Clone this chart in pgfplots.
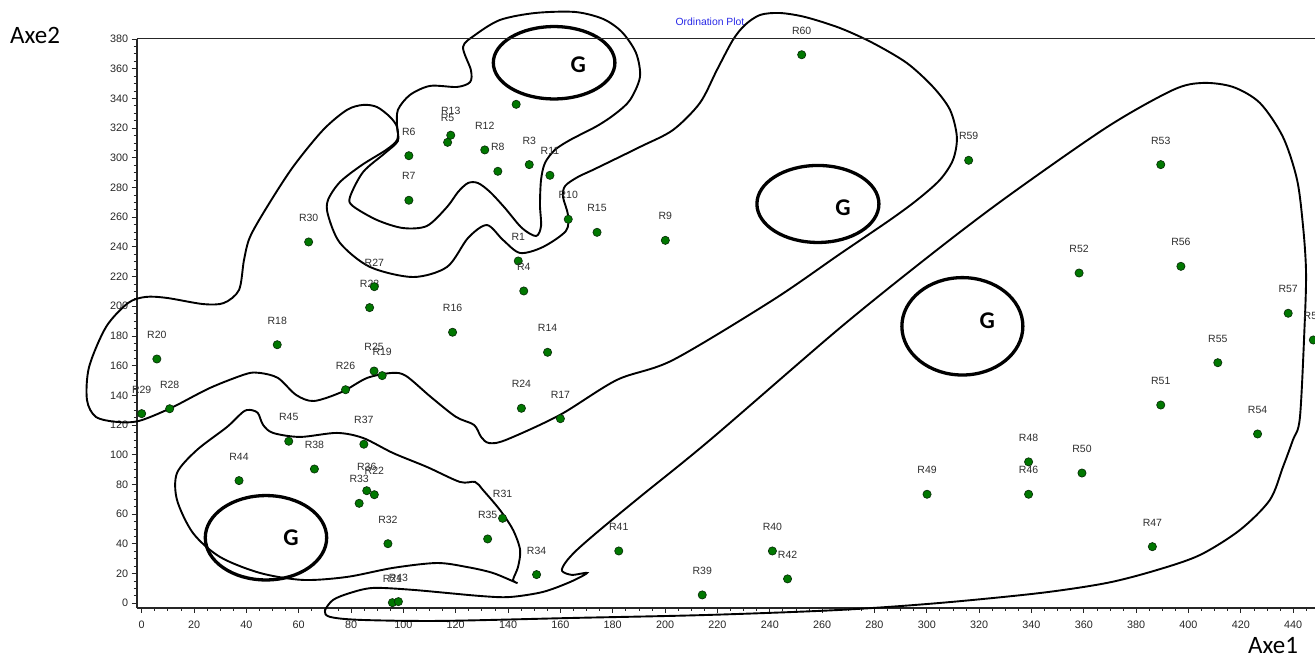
\documentclass[border=0pt]{standalone}
\usepackage{pgfplots}
\usepackage{pgfplotstable}
\pgfplotsset{compat=1.18}
\usepackage{fontspec}
\setmainfont{Liberation Sans}
\newfontfamily\calibri{Carlito}
\definecolor{ptgreen}{RGB}{0,120,0}
\definecolor{ptedge}{RGB}{10,50,10}
\definecolor{titleblue}{RGB}{40,40,230}
\pgfplotstableread{
x y label
143.9 230.5 R1
148.1 295.4 R3
146.0 210.3 R4
116.9 310.4 R5
102.1 301.4 R6
102.1 271.4 R7
136.1 290.9 R8
200.1 244.4 R9
163.0 258.6 R10
156.0 288.2 R11
131.1 305.3 R12
118.1 315.2 R13
155.1 169.0 R14
174.0 249.8 R15
118.8 182.5 R16
160.0 124.3 R17
51.8 174.1 R18
91.9 153.3 R19
5.8 164.5 R20
95.8 0.4 R21
88.9 73.1 R22
87.1 199.1 R23
145.1 131.3 R24
88.8 156.4 R25
77.9 143.8 R26
88.9 213.2 R27
10.7 131.0 R28
0.0 127.7 R29
63.8 243.3 R30
137.9 57.2 R31
94.1 40.1 R32
83.1 67.3 R33
150.9 19.3 R34
132.2 43.3 R35
86.0 75.8 R36
84.9 107.1 R37
66.0 90.4 R38
214.2 5.6 R39
241.0 35.2 R40
182.3 35.2 R41
246.8 16.4 R42
98.1 1.1 R43
37.2 82.6 R44
56.2 109.1 R45
338.9 73.4 R46
386.2 38.1 R47
338.9 95.2 R48
300.1 73.4 R49
359.3 87.7 R50
389.4 133.5 R51
358.2 222.4 R52
389.4 295.4 R53
426.4 114.0 R54
411.2 162.0 R55
397.1 226.9 R56
438.1 195.3 R57
447.7 177.3 R58
316.0 298.3 R59
252.2 369.4 R60
}\pts
\begin{document}
\begin{tikzpicture}
\begin{axis}[
  at={(136.7pt,48.3pt)}, anchor=south west,
  scale only axis, width=1195.7pt, height=568.7pt,
  xmin=-1.9, xmax=455, ymin=-3, ymax=380,
  clip=false,
  axis x line*=bottom, axis y line*=left,
  axis line style={line width=1.8pt, black!85},
  xtick distance=20, ytick distance=20, minor tick num=3,
  tick align=outside, major tick length=5pt, minor tick length=3pt,
  tick style={black!85, line width=0.8pt},
  /pgf/number format/assume math mode=true,
  ticklabel style={font=\fontsize{10.8}{12}\selectfont, text=black!85},
  xticklabel style={yshift=-4.5pt},
]
% closed contours
\addplot[smooth cycle, line width=1.9pt, black, mark=none] coordinates {
(122.8,374.6) (127.4,382.7) (136.9,392.8) (150.3,397.5) (165.6,398.2) (176.3,393.5) (183.5,384.7) (188.9,370.6) (190.4,354.4) (186.6,338.9) (180.9,329.5) (174.0,321.4) (163.7,312.0) (157.9,305.3) (154.1,296.5) (152.6,285.1) (152.2,268.2) (152.6,254.1) (150.7,247.3) (145.3,252.7) (138.8,266.2) (133.1,277.0) (128.5,283.0) (124.7,283.0) (120.9,277.0) (116.7,266.9) (109.0,254.1) (99.8,252.7) (89.9,258.1) (80.7,267.5) (79.6,273.6) (84.6,290.4) (93.0,303.2) (97.9,311.3) (97.6,320.7) (97.9,332.2) (102.5,342.3) (110.2,348.4) (120.5,347.7) (125.5,351.0) (125.8,359.1)
};
\addplot[smooth cycle, line width=1.9pt, black, mark=none] coordinates {
(236.3,396.2) (243.9,397.5) (253.5,394.8) (266.8,387.4) (279.4,377.3) (292.4,363.8) (302.4,347.7) (308.9,332.2) (311.5,314.0) (310.0,298.5) (305.0,285.1) (296.3,271.6) (285.9,258.1) (266.8,235.2) (241.2,204.2) (203.0,163.8) (181.6,150.4) (159.8,126.8) (139.2,110.0) (132.7,107.9) (129.7,112.0) (127.0,120.1) (120.1,125.5) (110.5,138.9) (101.0,153.1) (95.6,155.1) (86.1,151.7) (76.5,142.3) (65.8,136.2) (59.0,140.3) (52.1,151.7) (45.2,155.1) (39.9,154.4) (26.1,145.0) (11.2,131.5) (-1.0,122.8) (-9.4,122.1) (-17.5,125.5) (-20.9,136.9) (-20.1,159.1) (-13.6,186.1) (-5.2,202.2) (1.6,206.3) (9.7,205.6) (23.4,201.5) (31.4,202.2) (37.2,211.0) (39.1,231.2) (41.4,246.7) (47.9,266.9) (57.8,293.8) (69.3,318.7) (78.4,332.2) (84.6,335.6) (89.9,334.2) (94.9,327.5) (97.6,320.7) (97.6,312.0) (93.4,305.3) (84.2,295.2) (75.8,283.7) (71.2,271.6) (71.2,261.5) (75.8,242.6) (87.2,226.5) (103.7,219.7) (116.7,226.5) (124.7,246.0) (131.9,254.7) (138.1,244.6) (144.6,235.9) (153.3,239.9) (162.1,250.7) (162.9,261.5) (161.0,273.6) (161.8,281.0) (166.7,287.1) (173.2,292.5) (190.4,307.3) (203.0,318.7) (213.3,336.9) (219.8,359.1) (225.9,379.3) (230.5,389.4)
};
\addplot[smooth cycle, line width=1.9pt, black, mark=none] coordinates {
(41.4,130.2) (44.4,128.1) (46.4,120.1) (50.2,114.7) (60.5,112.0) (74.6,114.7) (84.6,111.3) (96.0,101.2) (109.0,91.8) (121.6,81.7) (127.4,81.7) (130.4,76.3) (136.9,62.8) (141.9,49.4) (144.6,35.9) (143.8,24.4) (141.9,15.7) (143.4,13.7) (134.2,20.4) (124.3,24.4) (112.8,27.1) (96.0,23.8) (78.4,17.7) (61.6,15.7) (45.2,20.4) (29.9,31.2) (19.6,47.3) (13.5,69.6) (13.5,87.7) (21.1,103.2) (32.6,118.7) (38.7,128.8)
};
\addplot[smooth cycle, line width=1.9pt, black, mark=none] coordinates {
(70.0,-5.2) (73.1,2.2) (79.6,6.9) (88.4,10.3) (103.7,9.0) (129.3,4.9) (140.7,4.2) (153.3,7.6) (163.7,14.3) (170.2,20.4) (164.4,19.1) (160.6,21.8) (162.1,27.8) (166.3,35.9) (175.1,49.4) (190.4,71.6) (217.2,110.0) (266.8,185.4) (302.4,235.9) (330.6,273.6) (368.9,320.7) (394.1,345.7) (405.5,350.4) (417.0,347.7) (427.3,336.9) (436.1,314.0) (441.5,285.1) (443.8,253.4) (444.9,224.4) (444.5,192.8) (442.6,125.5) (439.9,110.0) (436.1,91.8) (431.1,69.6) (419.7,49.4) (404.4,32.5) (388.0,22.4) (368.9,13.7) (343.3,6.9) (305.0,0.2) (266.8,-4.5) (216.0,-7.9) (164.8,-9.9) (114.0,-11.9) (83.4,-11.2) (72.0,-9.2)
};
% sites
\addplot[only marks, mark=*, mark size=4.1pt,
  mark options={fill=ptgreen, draw=ptedge, line width=0.7pt}] coordinates {(143.1,336.0)};
\addplot[only marks, mark=*, mark size=4.1pt,
  mark options={fill=ptgreen, draw=ptedge, line width=0.7pt},
  nodes near coords, point meta=explicit symbolic,
  every node near coord/.append style={font=\fontsize{10.5}{12}\selectfont, text=black!82, anchor=center, yshift=24pt}]
  table[x=x, y=y, meta=label] {\pts};
% group ellipses
\draw[line width=3.3pt] (axis cs:157.6,364.0) ellipse [x radius=60.8pt, y radius=36.2pt];
\draw[line width=3.3pt] (axis cs:258.4,268.9) ellipse [x radius=61pt, y radius=38.5pt];
\draw[line width=3.3pt] (axis cs:313.6,186.5) ellipse [x radius=60.5pt, y radius=48.7pt];
\draw[line width=3.3pt] (axis cs:47.5,44.1) ellipse [x radius=60.7pt, y radius=42.2pt];
\node[font=\calibri\bfseries\fontsize{24}{28}\selectfont] at (axis cs:166.8,362.5) {G};
\node[font=\calibri\bfseries\fontsize{24}{28}\selectfont] at (axis cs:268.0,266.2) {G};
\node[font=\calibri\bfseries\fontsize{24}{28}\selectfont] at (axis cs:323.1,190.1) {G};
\node[font=\calibri\bfseries\fontsize{24}{28}\selectfont] at (axis cs:57.1,44.2) {G};
\draw[line width=1pt, black!85] (rel axis cs:0,1) -- (rel axis cs:1,1);
\end{axis}
\node[font=\fontsize{10.4}{12}\selectfont, text=titleblue] at (710pt,634pt) {Ordination Plot};
\node[font=\calibri\fontsize{25}{28}\selectfont, anchor=west, inner sep=0pt] at (10pt,621pt) {Axe2};
\node[font=\calibri\fontsize{25}{28}\selectfont, anchor=west, inner sep=0pt] at (1248pt,10.5pt) {Axe1};
\pgfresetboundingbox
\path[use as bounding box] (0,0) rectangle (1315pt,656pt);
\end{tikzpicture}
\end{document}
